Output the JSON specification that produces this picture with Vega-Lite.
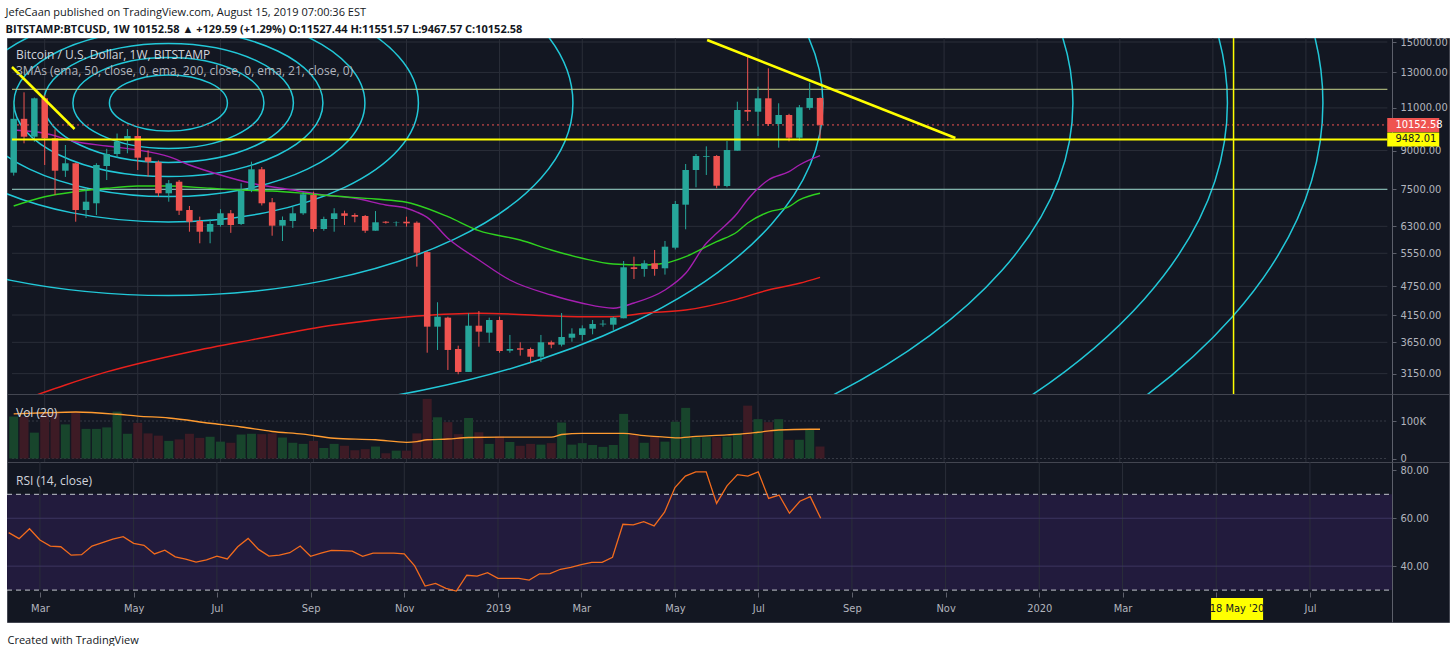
{
  "$schema": "https://vega.github.io/schema/vega-lite/v6.json",
  "background": "#ffffff",
  "padding": {"left": 5, "top": 6, "right": 3, "bottom": 0},
  "spacing": 0,
  "bounds": "flush",
  "title": {
    "text": "JefeCaan published on TradingView.com, August 15, 2019 07:00:36 EST",
    "subtitle": "BITSTAMP:BTCUSD, 1W  10152.58 ▲ +129.59 (+1.29%) O:11527.44 H:11551.57 L:9467.57 C:10152.58",
    "anchor": "start",
    "font": "Open Sans",
    "fontSize": 11,
    "fontWeight": "normal",
    "color": "#131722",
    "subtitleFont": "Open Sans",
    "subtitleFontSize": 11,
    "subtitleFontWeight": "bold",
    "subtitleColor": "#131722",
    "subtitlePadding": 6,
    "offset": 1
  },
  "config": {
    "view": {"fill": "#131722", "stroke": "#434651"},
    "concat": {"spacing": 0},
    "axis": {"labelFont": "Liberation Sans Narrow, DejaVu Sans Condensed, Liberation Sans", "labelFontSize": 11, "labelColor": "#b2b5be"}
  },
  "datasets": {
    "c": [
      {"d":"2018-02-12","o":8110,"h":11380,"l":8000,"c":10450,"v":112000,"r":54.0},
      {"d":"2018-02-19","o":10450,"h":11838,"l":9313,"c":9606,"v":112000,"r":51.5},
      {"d":"2018-02-26","o":9606,"h":11550,"l":9380,"c":11509,"v":69000,"r":55.6},
      {"d":"2018-03-05","o":11509,"h":11700,"l":8409,"c":9534,"v":123000,"r":50.9},
      {"d":"2018-03-12","o":9534,"h":9950,"l":7300,"c":8186,"v":123000,"r":48.4},
      {"d":"2018-03-19","o":8186,"h":9238,"l":7950,"c":8476,"v":91000,"r":48.1},
      {"d":"2018-03-26","o":8476,"h":8500,"l":6439,"c":6804,"v":123000,"r":44.6},
      {"d":"2018-04-02","o":6804,"h":7546,"l":6553,"c":7075,"v":79000,"r":44.8},
      {"d":"2018-04-09","o":7022,"h":8476,"l":6646,"c":8409,"v":79000,"r":48.4},
      {"d":"2018-04-16","o":8369,"h":9075,"l":7835,"c":8855,"v":83000,"r":49.8},
      {"d":"2018-04-23","o":8855,"h":9750,"l":8700,"c":9383,"v":125000,"r":51.3},
      {"d":"2018-04-30","o":9427,"h":9960,"l":8885,"c":9638,"v":66000,"r":52.3},
      {"d":"2018-05-07","o":9638,"h":10000,"l":8213,"c":8702,"v":95000,"r":49.5},
      {"d":"2018-05-14","o":8719,"h":9010,"l":7958,"c":8540,"v":67000,"r":48.7},
      {"d":"2018-05-21","o":8516,"h":8590,"l":7245,"c":7360,"v":61000,"r":45.1},
      {"d":"2018-05-28","o":7360,"h":7835,"l":7075,"c":7715,"v":47000,"r":46.7},
      {"d":"2018-06-04","o":7773,"h":7835,"l":6646,"c":6782,"v":51000,"r":43.9},
      {"d":"2018-06-11","o":6804,"h":6933,"l":6143,"c":6439,"v":66000,"r":42.9},
      {"d":"2018-06-18","o":6461,"h":6593,"l":5817,"c":6143,"v":55000,"r":41.7},
      {"d":"2018-06-25","o":6143,"h":6510,"l":5817,"c":6370,"v":58000,"r":42.6},
      {"d":"2018-07-02","o":6340,"h":6830,"l":6290,"c":6699,"v":45000,"r":44.2},
      {"d":"2018-07-09","o":6699,"h":6804,"l":6110,"c":6340,"v":42000,"r":43.0},
      {"d":"2018-07-16","o":6370,"h":7715,"l":6340,"c":7440,"v":64000,"r":48.1},
      {"d":"2018-07-23","o":7475,"h":8540,"l":7400,"c":8240,"v":66000,"r":51.6},
      {"d":"2018-07-30","o":8240,"h":8330,"l":6950,"c":7022,"v":65000,"r":47.0},
      {"d":"2018-08-06","o":7055,"h":7199,"l":6028,"c":6320,"v":67000,"r":44.2},
      {"d":"2018-08-13","o":6320,"h":6600,"l":5880,"c":6491,"v":56000,"r":44.6},
      {"d":"2018-08-20","o":6461,"h":6915,"l":6255,"c":6699,"v":42000,"r":45.6},
      {"d":"2018-08-27","o":6699,"h":7400,"l":6650,"c":7326,"v":39000,"r":48.4},
      {"d":"2018-09-03","o":7300,"h":7416,"l":6143,"c":6222,"v":47000,"r":44.1},
      {"d":"2018-09-10","o":6222,"h":6593,"l":6172,"c":6522,"v":28000,"r":45.4},
      {"d":"2018-09-17","o":6522,"h":6860,"l":6143,"c":6699,"v":39000,"r":46.6},
      {"d":"2018-09-24","o":6699,"h":6782,"l":6340,"c":6620,"v":34000,"r":46.5},
      {"d":"2018-10-01","o":6646,"h":6700,"l":6421,"c":6593,"v":22000,"r":46.3},
      {"d":"2018-10-08","o":6615,"h":6646,"l":6110,"c":6172,"v":25000,"r":44.1},
      {"d":"2018-10-15","o":6172,"h":6770,"l":6172,"c":6421,"v":32000,"r":45.4},
      {"d":"2018-10-22","o":6439,"h":6460,"l":6380,"c":6409,"v":14000,"r":45.4},
      {"d":"2018-10-29","o":6409,"h":6450,"l":6300,"c":6420,"v":21000,"r":45.4},
      {"d":"2018-11-05","o":6439,"h":6593,"l":6290,"c":6390,"v":21000,"r":45.1},
      {"d":"2018-11-12","o":6409,"h":6450,"l":5211,"c":5565,"v":67000,"r":40.1},
      {"d":"2018-11-19","o":5580,"h":5600,"l":3476,"c":3929,"v":159000,"r":31.7},
      {"d":"2018-11-26","o":3929,"h":4407,"l":3521,"c":4118,"v":110000,"r":32.8},
      {"d":"2018-12-03","o":4099,"h":4118,"l":3205,"c":3521,"v":97000,"r":30.7},
      {"d":"2018-12-10","o":3537,"h":3593,"l":3141,"c":3175,"v":65000,"r":29.6},
      {"d":"2018-12-17","o":3175,"h":4185,"l":3175,"c":3947,"v":108000,"r":36.2},
      {"d":"2018-12-24","o":3947,"h":4230,"l":3576,"c":3838,"v":70000,"r":35.8},
      {"d":"2018-12-31","o":3820,"h":4099,"l":3644,"c":4054,"v":39000,"r":37.3},
      {"d":"2019-01-07","o":4054,"h":4118,"l":3476,"c":3504,"v":59000,"r":34.9},
      {"d":"2019-01-14","o":3509,"h":3779,"l":3476,"c":3537,"v":44000,"r":34.9},
      {"d":"2019-01-21","o":3549,"h":3651,"l":3428,"c":3525,"v":34000,"r":34.9},
      {"d":"2019-01-28","o":3537,"h":3560,"l":3317,"c":3411,"v":39000,"r":34.2},
      {"d":"2019-02-04","o":3411,"h":3779,"l":3330,"c":3651,"v":37000,"r":36.8},
      {"d":"2019-02-11","o":3651,"h":3680,"l":3549,"c":3610,"v":41000,"r":36.9},
      {"d":"2019-02-18","o":3610,"h":4190,"l":3580,"c":3743,"v":96000,"r":38.7},
      {"d":"2019-02-25","o":3730,"h":3899,"l":3660,"c":3802,"v":37000,"r":39.5},
      {"d":"2019-03-04","o":3779,"h":3953,"l":3680,"c":3899,"v":41000,"r":40.6},
      {"d":"2019-03-11","o":3892,"h":4054,"l":3790,"c":3979,"v":36000,"r":41.6},
      {"d":"2019-03-18","o":3970,"h":4054,"l":3929,"c":3985,"v":31000,"r":41.6},
      {"d":"2019-03-25","o":3966,"h":4118,"l":3870,"c":4099,"v":36000,"r":43.7},
      {"d":"2019-04-01","o":4087,"h":5352,"l":4087,"c":5196,"v":119000,"r":57.5},
      {"d":"2019-04-08","o":5196,"h":5462,"l":4918,"c":5155,"v":65000,"r":57.2},
      {"d":"2019-04-15","o":5155,"h":5370,"l":4970,"c":5295,"v":42000,"r":58.6},
      {"d":"2019-04-22","o":5295,"h":5637,"l":4994,"c":5155,"v":59000,"r":56.8},
      {"d":"2019-04-29","o":5171,"h":5881,"l":5020,"c":5725,"v":45000,"r":62.5},
      {"d":"2019-05-06","o":5698,"h":7100,"l":5650,"c":6998,"v":98000,"r":72.8},
      {"d":"2019-05-13","o":6976,"h":8448,"l":6213,"c":8213,"v":135000,"r":77.6},
      {"d":"2019-05-20","o":8213,"h":8855,"l":7570,"c":8772,"v":57000,"r":79.4},
      {"d":"2019-05-27","o":8740,"h":9180,"l":8022,"c":8772,"v":57000,"r":79.4},
      {"d":"2019-06-03","o":8772,"h":8810,"l":7535,"c":7628,"v":57000,"r":66.2},
      {"d":"2019-06-10","o":7617,"h":9414,"l":7570,"c":9023,"v":58000,"r":73.5},
      {"d":"2019-06-17","o":8994,"h":11327,"l":8994,"c":10892,"v":67000,"r":78.2},
      {"d":"2019-06-24","o":10892,"h":13997,"l":10343,"c":10806,"v":141000,"r":77.6},
      {"d":"2019-07-01","o":10806,"h":12155,"l":9638,"c":11509,"v":105000,"r":79.4},
      {"d":"2019-07-08","o":11509,"h":13254,"l":10103,"c":10198,"v":97000,"r":68.3},
      {"d":"2019-07-15","o":10198,"h":11242,"l":9122,"c":10639,"v":105000,"r":69.7},
      {"d":"2019-07-22","o":10639,"h":10700,"l":9400,"c":9561,"v":50000,"r":62.1},
      {"d":"2019-07-29","o":9561,"h":11152,"l":9427,"c":11032,"v":50000,"r":67.1},
      {"d":"2019-08-05","o":11000,"h":12384,"l":10900,"c":11527,"v":78000,"r":69.0},
      {"d":"2019-08-12","o":11527.44,"h":11551.57,"l":9467.57,"c":10152.58,"v":32000,"r":60.0}
    ],
    "ma": [
      {"d":"2018-02-12","s":"ema21","p":9913},{"d":"2018-03-05","s":"ema21","p":9761},{"d":"2018-03-26","s":"ema21","p":9383},
      {"d":"2018-04-16","s":"ema21","p":9195},{"d":"2018-05-07","s":"ema21","p":9023},{"d":"2018-05-28","s":"ema21","p":8744},
      {"d":"2018-06-11","s":"ema21","p":8409},{"d":"2018-07-02","s":"ema21","p":8022},{"d":"2018-07-23","s":"ema21","p":7715},
      {"d":"2018-08-20","s":"ema21","p":7475},{"d":"2018-09-10","s":"ema21","p":7300},{"d":"2018-10-01","s":"ema21","p":7189},
      {"d":"2018-10-22","s":"ema21","p":6966},{"d":"2018-11-05","s":"ema21","p":6859},{"d":"2018-11-12","s":"ema21","p":6738},
      {"d":"2018-11-19","s":"ema21","p":6574},{"d":"2018-12-03","s":"ema21","p":5957},{"d":"2018-12-24","s":"ema21","p":5378},
      {"d":"2019-01-14","s":"ema21","p":4894},{"d":"2019-02-11","s":"ema21","p":4560},{"d":"2019-03-04","s":"ema21","p":4387},
      {"d":"2019-03-25","s":"ema21","p":4285},{"d":"2019-04-08","s":"ema21","p":4392},{"d":"2019-04-29","s":"ema21","p":4669},
      {"d":"2019-05-13","s":"ema21","p":5051},{"d":"2019-05-27","s":"ema21","p":5817},{"d":"2019-06-03","s":"ema21","p":6098},
      {"d":"2019-06-17","s":"ema21","p":6699},{"d":"2019-06-24","s":"ema21","p":7150},{"d":"2019-07-08","s":"ema21","p":7835},
      {"d":"2019-07-22","s":"ema21","p":8150},{"d":"2019-07-29","s":"ema21","p":8409},{"d":"2019-08-12","s":"ema21","p":8785},
      {"d":"2018-02-12","s":"ema50","p":6933},{"d":"2018-03-05","s":"ema50","p":7243},{"d":"2018-03-26","s":"ema50","p":7416},
      {"d":"2018-04-16","s":"ema50","p":7535},{"d":"2018-05-07","s":"ema50","p":7617},{"d":"2018-05-28","s":"ema50","p":7617},
      {"d":"2018-06-25","s":"ema50","p":7535},{"d":"2018-07-16","s":"ema50","p":7475},{"d":"2018-08-06","s":"ema50","p":7440},
      {"d":"2018-08-27","s":"ema50","p":7360},{"d":"2018-09-17","s":"ema50","p":7265},{"d":"2018-10-15","s":"ema50","p":7163},
      {"d":"2018-11-05","s":"ema50","p":7055},{"d":"2018-11-12","s":"ema50","p":6966},{"d":"2018-12-03","s":"ema50","p":6593},
      {"d":"2018-12-24","s":"ema50","p":6172},{"d":"2019-01-21","s":"ema50","p":5908},{"d":"2019-02-11","s":"ema50","p":5637},
      {"d":"2019-03-04","s":"ema50","p":5421},{"d":"2019-03-25","s":"ema50","p":5277},{"d":"2019-04-15","s":"ema50","p":5252},
      {"d":"2019-04-29","s":"ema50","p":5295},{"d":"2019-05-13","s":"ema50","p":5462},{"d":"2019-05-27","s":"ema50","p":5725},
      {"d":"2019-06-03","s":"ema50","p":5861},{"d":"2019-06-17","s":"ema50","p":6143},{"d":"2019-06-24","s":"ema50","p":6400},
      {"d":"2019-07-08","s":"ema50","p":6738},{"d":"2019-07-22","s":"ema50","p":6911},{"d":"2019-07-29","s":"ema50","p":7132},
      {"d":"2019-08-12","s":"ema50","p":7360},
      {"d":"2018-02-19","s":"ema200","p":2790},{"d":"2018-03-19","s":"ema200","p":2986},{"d":"2018-04-16","s":"ema200","p":3175},
      {"d":"2018-06-11","s":"ema200","p":3488},{"d":"2018-07-23","s":"ema200","p":3692},{"d":"2018-09-17","s":"ema200","p":3960},
      {"d":"2018-11-12","s":"ema200","p":4130},{"d":"2018-12-24","s":"ema200","p":4185},{"d":"2019-03-04","s":"ema200","p":4118},
      {"d":"2019-03-25","s":"ema200","p":4118},{"d":"2019-04-15","s":"ema200","p":4185},{"d":"2019-05-13","s":"ema200","p":4249},
      {"d":"2019-06-17","s":"ema200","p":4474},{"d":"2019-07-08","s":"ema200","p":4669},{"d":"2019-07-29","s":"ema200","p":4820},
      {"d":"2019-08-12","s":"ema200","p":4957}
    ],
    "vma": [
      {"d":"2018-02-12","v":119000},{"d":"2018-03-05","v":122000},{"d":"2018-03-26","v":124000},{"d":"2018-04-23","v":118000},
      {"d":"2018-05-07","v":113000},{"d":"2018-05-28","v":108000},{"d":"2018-06-25","v":94000},{"d":"2018-07-16","v":84000},
      {"d":"2018-08-06","v":72000},{"d":"2018-08-27","v":65000},{"d":"2018-09-17","v":54000},{"d":"2018-10-15","v":50000},
      {"d":"2018-11-05","v":43000},{"d":"2018-11-12","v":45000},{"d":"2018-11-19","v":50000},{"d":"2018-12-03","v":52000},
      {"d":"2018-12-17","v":56000},{"d":"2019-01-07","v":57000},{"d":"2019-02-11","v":57000},{"d":"2019-02-18","v":64000},
      {"d":"2019-03-04","v":67000},{"d":"2019-04-01","v":67000},{"d":"2019-04-15","v":61000},{"d":"2019-04-29","v":57000},
      {"d":"2019-05-06","v":55000},{"d":"2019-05-20","v":59000},{"d":"2019-06-10","v":63000},{"d":"2019-06-24","v":67000},
      {"d":"2019-07-01","v":70000},{"d":"2019-07-15","v":76000},{"d":"2019-08-05","v":78000},{"d":"2019-08-12","v":78000}
    ],
    "xt": [
      {"d":"2018-03-05"},{"d":"2018-05-07"},{"d":"2018-07-02"},{"d":"2018-09-03"},{"d":"2018-11-05"},
      {"d":"2019-01-07"},{"d":"2019-03-04"},{"d":"2019-05-06"},{"d":"2019-07-01"},{"d":"2019-09-02"},
      {"d":"2019-11-04"},{"d":"2020-01-06"},{"d":"2020-03-02"},{"d":"2020-05-04"},{"d":"2020-07-06"}
    ],
    "tags": [{"p": 10152.58, "t": "10152.58"}, {"p": 9482.01, "t": "9482.01"}]
  },
  "vconcat": [
    {
      "width": 1442,
      "height": 356,
      "resolve": {"axis": {"x": "independent", "y": "independent"}},
      "title": {
        "text": "Bitcoin / U.S. Dollar, 1W, BITSTAMP",
        "subtitle": "3MAs (ema, 50, close, 0, ema, 200, close, 0, ema, 21, close, 0)",
        "anchor": "start", "frame": "group", "offset": -42, "dx": 9,
        "font": "Open Sans", "fontSize": 12, "fontWeight": "normal", "color": "#d1d4dc",
        "subtitleFont": "Open Sans", "subtitleFontSize": 12, "subtitleColor": "#b2b5be", "subtitlePadding": 4
      },
      "layer": [
        {
          "data": {"name": "xt"},
          "mark": {"type": "rule", "color": "#2a2e39", "strokeWidth": 1},
          "encoding": {
            "x": {"field": "d", "type": "temporal", "axis": null,
                  "scale": {"type": "utc", "nice": false, "domain": [{"year":2018,"month":2,"date":10,"hours":20,"minutes":34,"utc":true},{"year":2020,"month":10,"date":7,"hours":12,"utc":true}]}}
          }
        },
        {
          "data": {"values": [{"p":3150},{"p":3650},{"p":4150},{"p":4750},{"p":5550},{"p":6300},{"p":7500},{"p":9000},{"p":11000},{"p":13000},{"p":15000}]},
          "mark": {"type": "rule", "color": "#2a2e39", "strokeWidth": 1},
          "encoding": {
            "y": {"field": "p", "type": "quantitative",
                  "scale": {"type": "log", "domain": [2862, 15286], "nice": false},
                  "axis": {"orient": "right", "offset": -57, "values": [3150,3650,4150,4750,5550,6300,7500,9000,11000,13000,15000],
                           "format": ".2f", "grid": false, "domainColor": "#5d606b", "tickColor": "#5d606b", "tickSize": 4,
                           "labelPadding": 4, "title": null, "labelOverlap": false, "labelBound": false, "labelFlush": false}},
            "x": {"datum": {"year":2018,"month":2,"date":10,"hours":20,"minutes":34,"utc":true}, "type": "temporal", "axis": null},
            "x2": {"datum": {"year":2020,"month":8,"date":30,"hours":4,"utc":true}}
          }
        },
        {
          "data": {"values": [
            {"d":"2018-05-27T18:30:00Z","p":11259,"lv":0.236},{"d":"2018-05-27T18:30:00Z","p":11259,"lv":0.382},
            {"d":"2018-05-27T18:30:00Z","p":11259,"lv":0.5},{"d":"2018-05-27T18:30:00Z","p":11259,"lv":0.618},
            {"d":"2018-05-27T18:30:00Z","p":11259,"lv":0.786},{"d":"2018-05-27T18:30:00Z","p":11259,"lv":1},
            {"d":"2018-05-27T18:30:00Z","p":11259,"lv":1.618},{"d":"2018-05-27T18:30:00Z","p":11259,"lv":2.618},
            {"d":"2018-05-27T18:30:00Z","p":11259,"lv":3.618},{"d":"2018-05-27T18:30:00Z","p":11259,"lv":4.236},
            {"d":"2018-05-27T18:30:00Z","p":11259,"lv":4.618}
          ]},
          "mark": {"type": "point", "shape": "M1,0C1,0.2629,0.5523,0.476,0,0.476C-0.5523,0.476,-1,0.2629,-1,0C-1,-0.2629,-0.5523,-0.476,0,-0.476C0.5523,-0.476,1,-0.2629,1,0Z",
                   "filled": false, "color": "#22c8d8", "strokeWidth": 1.5, "opacity": 1, "clip": true},
          "encoding": {
            "x": {"field": "d", "type": "temporal", "axis": null},
            "y": {"field": "p", "type": "quantitative", "axis": null},
            "size": {"field": "lv", "type": "quantitative", "legend": null,
                     "scale": {"type": "pow", "exponent": 2, "domain": [0, 5], "range": [0, 6250000]}}
          }
        },
        {
          "data": {"values": [{"p": 12008}]},
          "mark": {"type": "rule", "color": "#c9d48c", "strokeWidth": 1},
          "encoding": {
            "y": {"field": "p", "type": "quantitative", "axis": null},
            "x": {"datum": {"year":2018,"month":2,"date":10,"hours":20,"minutes":34,"utc":true}, "type": "temporal", "axis": null},
            "x2": {"datum": {"year":2020,"month":8,"date":30,"hours":4,"utc":true}}
          }
        },
        {
          "data": {"values": [{"p": 7500}]},
          "mark": {"type": "rule", "color": "#9ad8cb", "strokeWidth": 1},
          "encoding": {
            "y": {"field": "p", "type": "quantitative", "axis": null},
            "x": {"datum": {"year":2018,"month":2,"date":10,"hours":20,"minutes":34,"utc":true}, "type": "temporal", "axis": null},
            "x2": {"datum": {"year":2020,"month":8,"date":30,"hours":4,"utc":true}}
          }
        },
        {
          "data": {"values": [{"p": 10152.58}]},
          "mark": {"type": "rule", "color": "#ef5350", "strokeWidth": 1, "strokeDash": [2, 3]},
          "encoding": {
            "y": {"field": "p", "type": "quantitative", "axis": null},
            "x": {"datum": {"year":2018,"month":2,"date":10,"hours":20,"minutes":34,"utc":true}, "type": "temporal", "axis": null},
            "x2": {"datum": {"year":2020,"month":8,"date":30,"hours":4,"utc":true}}
          }
        },
        {
          "data": {"name": "ma"},
          "mark": {"type": "line", "strokeWidth": 1.4, "clip": true, "interpolate": "monotone"},
          "encoding": {
            "x": {"field": "d", "type": "temporal", "axis": null},
            "y": {"field": "p", "type": "quantitative", "axis": null},
            "color": {"field": "s", "type": "nominal", "legend": null,
                      "scale": {"domain": ["ema21", "ema50", "ema200"], "range": ["#a51fb0", "#2fd21f", "#e8201c"]}}
          }
        },
        {
          "data": {"name": "c"},
          "mark": {"type": "rule", "strokeWidth": 1},
          "encoding": {
            "x": {"field": "d", "type": "temporal", "axis": null},
            "y": {"field": "l", "type": "quantitative", "axis": null},
            "y2": {"field": "h"},
            "color": {"condition": {"test": "datum.c >= datum.o", "value": "#26a69a"}, "value": "#ef5350"}
          }
        },
        {
          "data": {"name": "c"},
          "mark": {"type": "bar", "size": 6.5},
          "encoding": {
            "x": {"field": "d", "type": "temporal", "axis": null},
            "y": {"field": "o", "type": "quantitative", "axis": null},
            "y2": {"field": "c"},
            "color": {"condition": {"test": "datum.c >= datum.o", "value": "#26a69a"}, "value": "#ef5350"}
          }
        },
        {
          "data": {"values": [
            {"g":"a","d":"2018-02-10T20:34:00Z","p":13336},{"g":"a","d":"2018-03-25T05:17:00Z","p":9961},
            {"g":"b","d":"2019-05-27T13:12:00Z","p":15142},{"g":"b","d":"2019-11-11T15:50:00Z","p":9548}
          ]},
          "mark": {"type": "line", "color": "#ffff00", "strokeWidth": 2.5, "clip": true},
          "encoding": {
            "x": {"field": "d", "type": "temporal", "axis": null},
            "y": {"field": "p", "type": "quantitative", "axis": null},
            "detail": {"field": "g"}
          }
        },
        {
          "data": {"values": [{"p": 9482.01}]},
          "mark": {"type": "rule", "color": "#ffff00", "strokeWidth": 2},
          "encoding": {
            "y": {"field": "p", "type": "quantitative", "axis": null},
            "x": {"datum": {"year":2018,"month":2,"date":10,"hours":20,"minutes":34,"utc":true}, "type": "temporal", "axis": null},
            "x2": {"datum": {"year":2020,"month":8,"date":30,"hours":4,"utc":true}}
          }
        },
        {
          "data": {"values": [{"d": "2020-05-18"}]},
          "mark": {"type": "rule", "color": "#ffff00", "strokeWidth": 1.5},
          "encoding": {"x": {"field": "d", "type": "temporal", "axis": null}}
        },
        {
          "data": {"name": "tags"},
          "transform": [{"filter": "datum.p > 10000"}],
          "mark": {"type": "point", "shape": "M-1,-0.27H1V0.27H-1Z", "filled": true, "opacity": 1, "size": 2704, "color": "#ef5350"},
          "encoding": {
            "x": {"datum": {"year":2020,"month":9,"date":16,"hours":16,"utc":true}, "type": "temporal", "axis": null},
            "y": {"field": "p", "type": "quantitative", "axis": null}
          }
        },
        {
          "data": {"name": "tags"},
          "transform": [{"filter": "datum.p < 10000"}],
          "mark": {"type": "point", "shape": "M-1,-0.27H1V0.27H-1Z", "filled": true, "opacity": 1, "size": 2704, "color": "#ffff00"},
          "encoding": {
            "x": {"datum": {"year":2020,"month":9,"date":16,"hours":16,"utc":true}, "type": "temporal", "axis": null},
            "y": {"field": "p", "type": "quantitative", "axis": null}
          }
        },
        {
          "data": {"name": "tags"},
          "transform": [{"filter": "datum.p > 10000"}],
          "mark": {"type": "text", "align": "left", "baseline": "middle", "dx": 8, "fontSize": 11, "color": "#ffffff", "font": "Liberation Sans Narrow, DejaVu Sans Condensed, Liberation Sans"},
          "encoding": {
            "x": {"datum": {"year":2020,"month":8,"date":30,"hours":4,"utc":true}, "type": "temporal", "axis": null},
            "y": {"field": "p", "type": "quantitative", "axis": null},
            "text": {"field": "t"}
          }
        },
        {
          "data": {"name": "tags"},
          "transform": [{"filter": "datum.p < 10000"}],
          "mark": {"type": "text", "align": "left", "baseline": "middle", "dx": 8, "fontSize": 11, "color": "#131722", "font": "Liberation Sans Narrow, DejaVu Sans Condensed, Liberation Sans"},
          "encoding": {
            "x": {"datum": {"year":2020,"month":8,"date":30,"hours":4,"utc":true}, "type": "temporal", "axis": null},
            "y": {"field": "p", "type": "quantitative", "axis": null},
            "text": {"field": "t"}
          }
        }
      ]
    },
    {
      "width": 1442,
      "height": 68,
      "resolve": {"axis": {"x": "independent", "y": "independent"}},
      "title": {"text": "Vol (20)", "anchor": "start", "frame": "group", "offset": -26, "dx": 9,
                "font": "Open Sans", "fontSize": 12, "fontWeight": "normal", "color": "#d1d4dc"},
      "layer": [
        {
          "data": {"name": "xt"},
          "mark": {"type": "rule", "color": "#2a2e39", "strokeWidth": 1},
          "encoding": {
            "x": {"field": "d", "type": "temporal", "axis": null,
                  "scale": {"type": "utc", "nice": false, "domain": [{"year":2018,"month":2,"date":10,"hours":20,"minutes":34,"utc":true},{"year":2020,"month":10,"date":7,"hours":12,"utc":true}]}}
          }
        },
        {
          "data": {"values": [{"v": 0}, {"v": 100000}]},
          "mark": {"type": "rule", "color": "#363a45", "strokeWidth": 1, "strokeDash": [2, 2]},
          "encoding": {
            "y": {"field": "v", "type": "quantitative",
                  "scale": {"domain": [-9300, 172000], "nice": false, "zero": false},
                  "axis": {"orient": "right", "offset": -57, "values": [0, 100000], "grid": false,
                           "labelExpr": "datum.value == 0 ? '0' : format(datum.value / 1000, 'd') + 'K'",
                           "domainColor": "#5d606b", "tickColor": "#5d606b", "tickSize": 4, "labelPadding": 4, "title": null,
                           "labelOverlap": false, "labelBound": false, "labelFlush": false}},
            "x": {"datum": {"year":2018,"month":2,"date":10,"hours":20,"minutes":34,"utc":true}, "type": "temporal", "axis": null},
            "x2": {"datum": {"year":2020,"month":8,"date":30,"hours":4,"utc":true}}
          }
        },
        {
          "data": {"name": "c"},
          "mark": {"type": "bar", "size": 9},
          "encoding": {
            "x": {"field": "d", "type": "temporal", "axis": null},
            "y": {"field": "v", "type": "quantitative", "axis": null},
            "y2": {"datum": 0},
            "color": {"condition": {"test": "datum.c >= datum.o", "value": "#18452c"}, "value": "#3d1b25"}
          }
        },
        {
          "data": {"name": "vma"},
          "mark": {"type": "line", "color": "#ff9b30", "strokeWidth": 1.3, "interpolate": "monotone"},
          "encoding": {
            "x": {"field": "d", "type": "temporal", "axis": null},
            "y": {"field": "v", "type": "quantitative", "axis": null}
          }
        }
      ]
    },
    {
      "width": 1442,
      "height": 160,
      "resolve": {"axis": {"x": "independent", "y": "independent"}},
      "title": {"text": "RSI (14, close)", "anchor": "start", "frame": "group", "offset": -26, "dx": 9,
                "font": "Open Sans", "fontSize": 12, "fontWeight": "normal", "color": "#d1d4dc"},
      "layer": [
        {
          "data": {"values": [{}]},
          "mark": {"type": "rect", "color": "#221b3d"},
          "encoding": {
            "x": {"datum": {"year":2018,"month":2,"date":10,"hours":20,"minutes":34,"utc":true}, "type": "temporal", "axis": null,
                  "scale": {"type": "utc", "nice": false, "domain": [{"year":2018,"month":2,"date":10,"hours":20,"minutes":34,"utc":true},{"year":2020,"month":10,"date":7,"hours":12,"utc":true}]}},
            "x2": {"datum": {"year":2020,"month":8,"date":30,"hours":4,"utc":true}},
            "y": {"datum": 30, "type": "quantitative", "axis": null, "scale": {"domain": [16.68, 83.49], "nice": false, "zero": false}},
            "y2": {"datum": 70}
          }
        },
        {
          "data": {"name": "xt"},
          "mark": {"type": "rule", "color": "#2a2e39", "strokeWidth": 1},
          "encoding": {
            "x": {"field": "d", "type": "temporal", "axis": null},
            "y": {"datum": 30, "type": "quantitative", "axis": null},
            "y2": {"datum": 83.49}
          }
        },
        {
          "data": {"values": [{"r": 40}, {"r": 60}]},
          "mark": {"type": "rule", "color": "#3d3660", "strokeWidth": 1},
          "encoding": {
            "y": {"field": "r", "type": "quantitative", "axis": null},
            "x": {"datum": {"year":2018,"month":2,"date":10,"hours":20,"minutes":34,"utc":true}, "type": "temporal", "axis": null},
            "x2": {"datum": {"year":2020,"month":8,"date":30,"hours":4,"utc":true}}
          }
        },
        {
          "data": {"values": [{"r": 30}, {"r": 70}]},
          "mark": {"type": "rule", "color": "#c3c6ce", "strokeWidth": 1, "strokeDash": [5, 4]},
          "encoding": {
            "y": {"field": "r", "type": "quantitative", "axis": null},
            "x": {"datum": {"year":2018,"month":2,"date":10,"hours":20,"minutes":34,"utc":true}, "type": "temporal", "axis": null},
            "x2": {"datum": {"year":2020,"month":8,"date":30,"hours":4,"utc":true}}
          }
        },
        {
          "data": {"name": "c"},
          "mark": {"type": "line", "color": "#f26b1d", "strokeWidth": 1.3},
          "encoding": {
            "x": {"field": "d", "type": "temporal",
                  "axis": {"orient": "bottom", "offset": -30, "grid": false, "domain": false,
                           "values": [{"year":2018,"month":3,"date":5,"utc":true},{"year":2018,"month":5,"date":7,"utc":true},{"year":2018,"month":7,"date":2,"utc":true},{"year":2018,"month":9,"date":3,"utc":true},{"year":2018,"month":11,"date":5,"utc":true},{"year":2019,"month":1,"date":7,"utc":true},{"year":2019,"month":3,"date":4,"utc":true},{"year":2019,"month":5,"date":6,"utc":true},{"year":2019,"month":7,"date":1,"utc":true},{"year":2019,"month":9,"date":2,"utc":true},{"year":2019,"month":11,"date":4,"utc":true},{"year":2020,"month":1,"date":6,"utc":true},{"year":2020,"month":3,"date":2,"utc":true},{"year":2020,"month":5,"date":4,"utc":true},{"year":2020,"month":7,"date":6,"utc":true}],
                           "labelExpr": "utcFormat(datum.value, '%Y-%m') == '2020-05' ? '' : (utcFormat(datum.value, '%m') == '01' ? utcFormat(datum.value, '%Y') : utcFormat(datum.value, '%b'))",
                           "tickSize": 5, "tickColor": "#5d606b", "labelPadding": 5, "labelOverlap": false, "labelBound": false, "labelFlush": false,
                           "title": "Created with TradingView", "titleAnchor": "start", "titleAlign": "left", "titleColor": "#131722",
                           "titleFont": "Open Sans", "titleFontSize": 11, "titleFontWeight": "normal", "titlePadding": 21}},
            "y": {"field": "r", "type": "quantitative",
                  "axis": {"orient": "right", "offset": -57, "values": [40, 60, 80], "format": ".2f", "grid": false,
                           "domainColor": "#5d606b", "tickColor": "#5d606b", "tickSize": 4, "labelPadding": 4, "title": null,
                           "labelOverlap": false, "labelBound": false, "labelFlush": false}}
          }
        },
        {
          "data": {"values": [{"d": "2020-05-18", "t": "18 May '20"}]},
          "mark": {"type": "point", "shape": "M-1,-0.42H1V0.42H-1Z", "filled": true, "opacity": 1, "size": 2704, "color": "#ffff00"},
          "encoding": {
            "x": {"field": "d", "type": "temporal", "axis": null},
            "y": {"datum": 22.1, "type": "quantitative", "axis": null}
          }
        },
        {
          "data": {"values": [{"d": "2020-05-18", "t": "18 May '20"}]},
          "mark": {"type": "text", "color": "#131722", "fontSize": 11, "baseline": "middle", "font": "Liberation Sans Narrow, DejaVu Sans Condensed, Liberation Sans"},
          "encoding": {
            "x": {"field": "d", "type": "temporal", "axis": null},
            "y": {"datum": 22.1, "type": "quantitative", "axis": null},
            "text": {"field": "t"}
          }
        }
      ]
    }
  ]
}
